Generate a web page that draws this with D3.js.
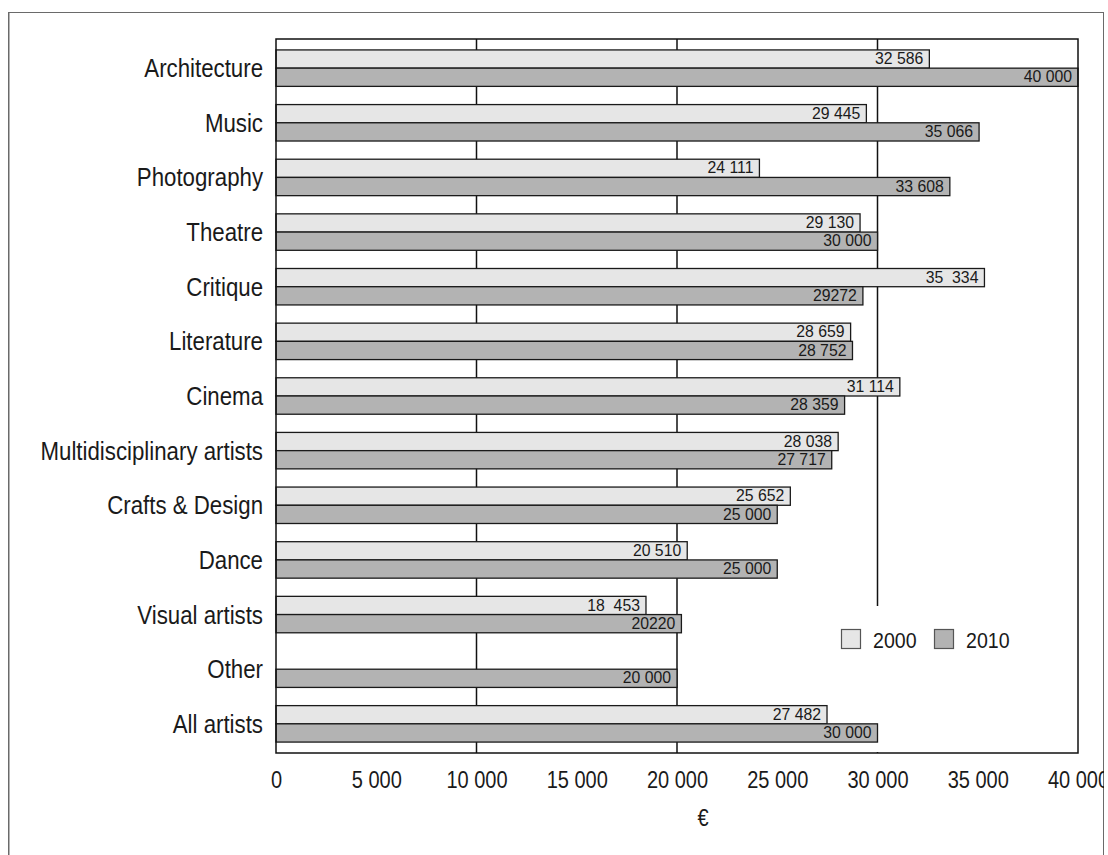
<!DOCTYPE html>
<html>
<head>
<meta charset="utf-8">
<script src="https://cdn.jsdelivr.net/npm/d3@7"></script>
<style>
  html, body { margin: 0; padding: 0; background: #fff; }
  svg { display: block; }
  text { font-family: "Liberation Sans", Arial, sans-serif; fill: #1a1a1a; }
</style>
</head>
<body>
<svg id="chart" width="1108" height="855"></svg>
<script>
// Average earnings by discipline (€), 2000 vs 2010
const categories = [
  "Architecture", "Music", "Photography", "Theatre", "Critique", "Literature",
  "Cinema", "Multidisciplinary artists", "Crafts & Design", "Dance",
  "Visual artists", "Other", "All artists"
];
const values2000 = [32586, 29445, 24111, 29130, 35334, 28659, 31114, 28038, 25652, 20510, 18453, null, 27482];
const values2010 = [40000, 35066, 33608, 30000, 29272, 28752, 28359, 27717, 25000, 25000, 20220, 20000, 30000];
const labels2000 = ["32 586", "29 445", "24 111", "29 130", "35  334", "28 659", "31 114", "28 038", "25 652", "20 510", "18  453", null, "27 482"];
const labels2010 = ["40 000", "35 066", "33 608", "30 000", "29272", "28 752", "28 359", "27 717", "25 000", "25 000", "20220", "20 000", "30 000"];
const xTicks = [0, 5000, 10000, 15000, 20000, 25000, 30000, 35000, 40000];
const gridValues = [10000, 20000, 30000];
const seriesNames = ["2000", "2010"];

const colors = { y2000: "#e6e6e6", y2010: "#b3b3b3" };
const svg = d3.select("#chart");

const plot = { left: 276, right: 1078, top: 39, bottom: 753 };
// condensed look: horizontal squeeze applied to text
const squeeze = { cat: 0.89, value: 0.93, tick: 0.87, legend: 0.89 };

const x = d3.scaleLinear().domain([0, 40000]).range([plot.left, plot.right]);
const y = d3.scaleBand().domain(categories).range([plot.top, plot.bottom])
  .paddingInner(0.333).paddingOuter(0.2);
const sub = d3.scaleBand().domain(seriesNames).range([0, y.bandwidth()]);

const fmt = d => d.toLocaleString("fr-FR").replace(/\u202f|\u00a0/g, " ");

// clip everything to the outer frame
svg.append("defs").append("clipPath").attr("id", "frameClip")
  .append("rect").attr("x", 8).attr("y", 12).attr("width", 1096).attr("height", 850);

const root = svg.append("g").attr("clip-path", "url(#frameClip)");

// outer frame
root.append("rect")
  .attr("x", 8.5).attr("y", 12).attr("width", 1095.5).attr("height", 860)
  .attr("fill", "#fff").attr("stroke", "#6a6a6a").attr("stroke-width", 2);

// vertical grid lines
root.append("g").selectAll("line").data(gridValues).join("line")
  .attr("x1", d => x(d)).attr("x2", d => x(d))
  .attr("y1", plot.top).attr("y2", plot.bottom)
  .attr("stroke", "#111").attr("stroke-width", 1.5);

// legend background hides the grid behind it
const legendBox = { x: 832, y: 606 };
root.append("rect")
  .attr("x", legendBox.x).attr("y", legendBox.y)
  .attr("width", plot.right - legendBox.x - 1).attr("height", plot.bottom - legendBox.y - 1)
  .attr("fill", "#fff");

// bars
const rows = categories.map((c, i) => ({ c, i }));
const barG = root.append("g");
function drawSeries(key, vals, labs, fill) {
  const data = rows.filter(r => vals[r.i] != null);
  barG.append("g").selectAll("rect").data(data).join("rect")
    .attr("x", x(0))
    .attr("y", r => y(r.c) + sub(key))
    .attr("width", r => x(vals[r.i]) - x(0))
    .attr("height", sub.bandwidth())
    .attr("fill", fill).attr("stroke", "#1a1a1a").attr("stroke-width", 1.3);
  barG.append("g").selectAll("text").data(data).join("text")
    .attr("transform", r =>
      `translate(${x(vals[r.i]) - 6},${y(r.c) + sub(key) + sub.bandwidth() - 4}) scale(${squeeze.value},1)`)
    .attr("text-anchor", "end")
    .attr("font-size", 17)
    .attr("xml:space", "preserve")
    .style("white-space", "pre")
    .text(r => labs[r.i]);
}
drawSeries("2000", values2000, labels2000, colors.y2000);
drawSeries("2010", values2010, labels2010, colors.y2010);

// plot frame
root.append("rect")
  .attr("x", plot.left).attr("y", plot.top)
  .attr("width", plot.right - plot.left).attr("height", plot.bottom - plot.top)
  .attr("fill", "none").attr("stroke", "#111").attr("stroke-width", 1.5);

// category labels
root.append("g").selectAll("text").data(categories).join("text")
  .attr("transform", d =>
    `translate(${plot.left - 13},${y(d) + y.bandwidth() / 2 + 9}) scale(${squeeze.cat},1)`)
  .attr("text-anchor", "end")
  .attr("font-size", 25)
  .text(d => d);

// x axis labels
const xAxis = d3.axisBottom(x).tickValues(xTicks).tickFormat(fmt).tickSize(0).tickPadding(0);
const ax = root.append("g").attr("transform", `translate(0,${plot.bottom})`).call(xAxis);
ax.select(".domain").remove();
ax.selectAll("text")
  .attr("y", 0).attr("dy", 0)
  .attr("transform", `translate(0,35) scale(${squeeze.tick},1)`)
  .attr("font-size", 23)
  .attr("font-family", null)
  .attr("fill", "#1a1a1a");

// axis title
root.append("text")
  .attr("transform", `translate(703,826) scale(${squeeze.tick},1)`)
  .attr("text-anchor", "middle")
  .attr("font-size", 23)
  .text("€");

// legend
const legend = root.append("g");
const legendItems = [
  { name: "2000", fill: colors.y2000, x: 841 },
  { name: "2010", fill: colors.y2010, x: 934 }
];
legendItems.forEach(it => {
  legend.append("rect")
    .attr("x", it.x + 0.5).attr("y", 629.5).attr("width", 19).attr("height", 19)
    .attr("fill", it.fill).attr("stroke", "#555").attr("stroke-width", 1.2);
  legend.append("text")
    .attr("transform", `translate(${it.x + 32},648) scale(${squeeze.legend},1)`)
    .attr("font-size", 22)
    .text(it.name);
});
</script>
</body>
</html>
